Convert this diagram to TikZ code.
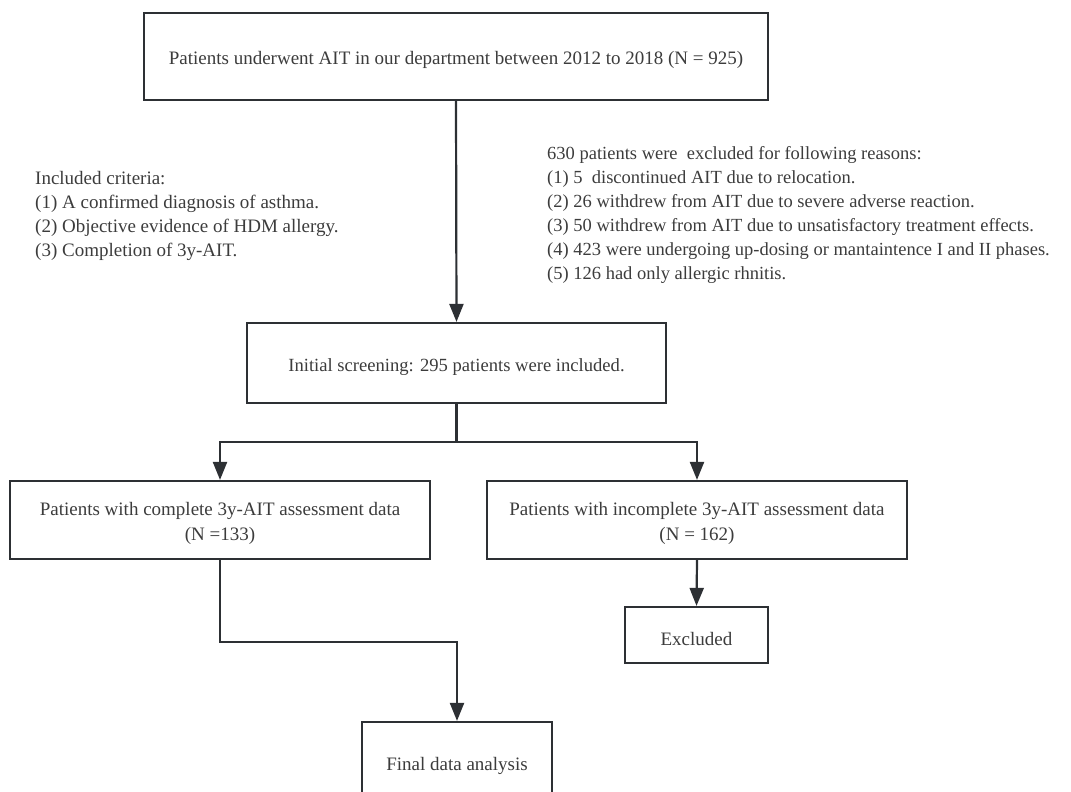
\documentclass[tikz,border=0pt]{standalone}
\usepackage{fontspec}
\setmainfont{Liberation Serif}
\usetikzlibrary{arrows.meta}
\definecolor{ln}{RGB}{45,48,52}
\definecolor{tx}{RGB}{60,60,60}
\newcommand{\mystrut}{\rule{0pt}{21pt}}
\begin{document}
\begin{tikzpicture}[x=1pt,y=-1pt,
  box/.style={draw=ln, line width=2.2pt, fill=white, text=tx, align=center, inner sep=0pt, font=\fontsize{19}{25}\selectfont},
  conn/.style={draw=ln, line width=2.2pt},
  arr/.style={conn, -{Triangle[width=14pt,length=18pt]}},
  note/.style={text=tx, align=left, inner sep=0pt, anchor=north west, font=\fontsize{18.5}{24}\selectfont}]
\useasboundingbox (0,0) rectangle (1071,792);
\node[box, minimum width=624pt, minimum height=87pt] (top) at (456,56.5)
  {\mystrut Patients underwent AIT in our department between 2012 to 2018 (N = 925)};
\node[box, minimum width=419pt, minimum height=80pt, font=\fontsize{18.6}{25}\selectfont] (screen) at (456.5,363)
  {\mystrut Initial screening: 295 patients were included.};
\node[box, minimum width=420pt, minimum height=78pt] (comp) at (220,520)
  {\mystrut Patients with complete 3y-AIT assessment data\\(N =133)};
\node[box, minimum width=420pt, minimum height=78pt] (incomp) at (697,520)
  {\mystrut Patients with incomplete 3y-AIT assessment data\\(N = 162)};
\node[box, minimum width=143pt, minimum height=56pt] (excl) at (696.5,635)
  {\mystrut Excluded};
\node[box, minimum width=190pt, minimum height=80pt] (final) at (457,762)
  {\mystrut Final data analysis};
\node[note, font=\fontsize{19}{24}\selectfont] (incl) at (35,171)
  {Included criteria:\\(1) A confirmed diagnosis of asthma.\\(2) Objective evidence of HDM allergy.\\(3) Completion of 3y-AIT.};
\node[note] (exclnote) at (547,146)
  {630 patients were\ \ excluded for following reasons:\\(1) 5\ \ discontinued AIT due to relocation.\\(2) 26 withdrew from AIT due to severe adverse reaction.\\(3) 50 withdrew from AIT due to unsatisfactory treatment effects.\\(4) 423 were undergoing up-dosing or mantaintence I and II phases.\\(5) 126 had only allergic rhnitis.};
\coordinate (split) at (456.5,442);
\draw[arr] (top.south) -- (screen.north);
\draw[conn] (screen.south) -- (split);
\draw[arr] (split) -| (comp.north);
\draw[arr] (split) -| (incomp.north);
\draw[arr] (incomp.south) -- (excl.north);
\draw[arr] (comp.south) -- ++(0,82) -| (final.north);
\end{tikzpicture}
\end{document}
